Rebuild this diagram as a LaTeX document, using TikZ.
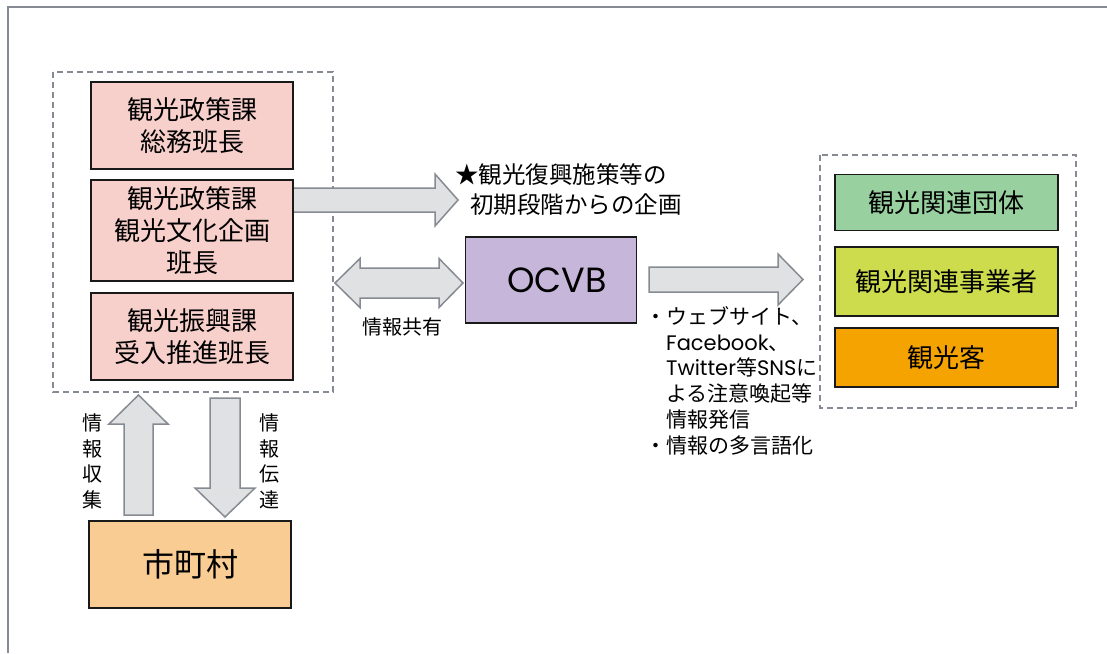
\documentclass[tikz,border=0pt]{standalone}
\usepackage{fontspec}
\setmainfont{Noto Sans CJK JP}
\newfontfamily\lat{Poppins}
\usetikzlibrary{calc}
\definecolor{framegray}{HTML}{868B93}
\definecolor{arrowfill}{HTML}{E0E1E3}
\definecolor{pinkfill}{HTML}{F8D0CB}
\definecolor{lavfill}{HTML}{C6B7DA}
\definecolor{greenfill}{HTML}{98D0A0}
\definecolor{limefill}{HTML}{CDDC4C}
\definecolor{orangefill}{HTML}{F4A300}
\definecolor{peachfill}{HTML}{F9CC94}
\tikzset{
  orgbox/.style={draw=black!90, line width=1.6pt, inner sep=0pt, align=center, text=black},
  blockarrow/.style={draw=framegray, fill=arrowfill, line width=1.5pt, line join=miter},
  groupbox/.style={draw=framegray, line width=1.4pt, dash pattern=on 6pt off 4pt},
  lbl/.style={inner sep=0pt, align=center, text=black}
}
\newcommand\harr[6]{%
  \draw[blockarrow] (#1,{#4-#5}) -- (#2,{#4-#5}) -- (#2,{#4-#6}) -- (#3,#4) -- (#2,{#4+#6}) -- (#2,{#4+#5}) -- (#1,{#4+#5}) -- cycle;}
\newcommand\varr[6]{%
  \draw[blockarrow] ({#1-#5},#2) -- ({#1-#5},#3) -- ({#1-#6},#3) -- (#1,#4) -- ({#1+#6},#3) -- ({#1+#5},#3) -- ({#1+#5},#2) -- cycle;}
\begin{document}
\begin{tikzpicture}[x=1pt,y=-1pt]
\useasboundingbox[fill=white] (0,0) rectangle (1107,653);
% outer frame
\draw[framegray, line width=2.8pt] (8,653) -- (8,7) -- (1107,7);
% group boxes
\draw[groupbox] (53,72) rectangle (333,392);
\draw[groupbox] (820,155) rectangle (1076,408);
% block arrows
\harr{293}{435}{458}{200}{12}{26}
\draw[blockarrow] (335,283) -- (360,{283-24.5}) -- (360,{283-15}) -- (439,{283-15}) -- (439,{283-24.5}) -- (463,283) -- (439,{283+24.5}) -- (439,{283+15}) -- (360,{283+15}) -- (360,{283+24.5}) -- cycle;
\harr{649}{778}{803}{279.5}{12.5}{25.5}
\varr{138.5}{515}{424}{395}{14.5}{29.5}
\varr{225}{398}{488}{517}{15}{30}
% boxes
\node[orgbox, fill=pinkfill, minimum width=202pt, minimum height=87pt, font=\fontsize{26}{32}\selectfont] (b1) at (192,125.5) {観光政策課\\総務班長};
\node[orgbox, fill=pinkfill, minimum width=202pt, minimum height=101pt, font=\fontsize{26}{32}\selectfont] (b2) at (192,230.5) {観光政策課\\観光文化企画\\班長};
\node[orgbox, fill=pinkfill, minimum width=202pt, minimum height=87pt, font=\fontsize{26}{32}\selectfont] (b3) at (192,336.5) {観光振興課\\受入推進班長};
\node[orgbox, fill=lavfill, minimum width=171pt, minimum height=86pt, font=\fontsize{35}{40}\lat] (ocvb) at (551,280) {\hspace*{12pt}OCVB};
\node[orgbox, fill=greenfill, minimum width=223pt, minimum height=56pt, font=\fontsize{26}{32}\selectfont] (g1) at (946.5,202.5) {観光関連団体};
\node[orgbox, fill=limefill, minimum width=223pt, minimum height=69pt, font=\fontsize{26}{32}\selectfont] (g2) at (946.5,281.5) {観光関連事業者};
\node[orgbox, fill=orangefill, minimum width=223pt, minimum height=59pt, font=\fontsize{26}{32}\selectfont] (g3) at (946.5,357.5) {観光客};
\node[orgbox, fill=peachfill, minimum width=202pt, minimum height=87pt, font=\fontsize{32}{38}\selectfont] (city) at (190,564.5) {市町村};
% labels
\node[lbl, anchor=west, align=left, font=\fontsize{23.5}{30}\selectfont] (plan) at (455,190) {★観光復興施策等の\\\hspace*{15pt}初期段階からの企画};
\node[lbl, font=\fontsize{20}{24}\selectfont] (share) at (402,327) {情報共有};
\node[lbl, font=\fontsize{20}{25.5}\selectfont] (collect) at (92,461.5) {情\\報\\収\\集};
\node[lbl, font=\fontsize{20}{25.5}\selectfont] (convey) at (269,461.5) {情\\報\\伝\\達};
\node[lbl, anchor=north west, align=left, font=\fontsize{21}{25.8}\selectfont] (notes) at (645,306) {・ウェブサイト、\\　{\lat Facebook}、\\　{\lat Twitter}等{\lat SNS}に\\　よる注意喚起等\\　情報発信\\・情報の多言語化};
\end{tikzpicture}
\end{document}
